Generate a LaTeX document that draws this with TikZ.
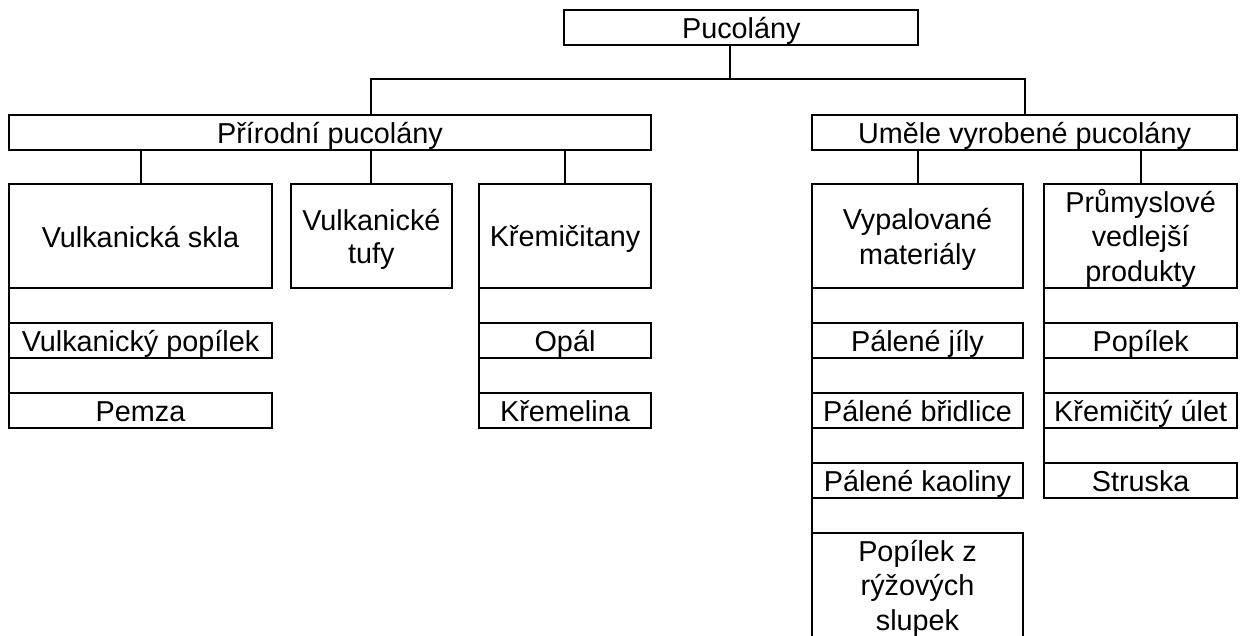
\documentclass[tikz,border=0pt]{standalone}
\usepackage{fontspec}
\setmainfont{Liberation Sans}
\newcommand\strt{\rule[-5.3pt]{0pt}{33pt}}
\begin{document}
\begin{tikzpicture}[x=1pt,y=-1pt,
  bx/.style={draw=black, line width=2pt, inner sep=0pt, outer sep=0pt,
    align=center, anchor=north west, font=\fontsize{28.8}{33}\selectfont},
  ln/.style={draw=black, line width=2pt}]
\fill[white] (0,0) rectangle (1240,635);
\useasboundingbox (0,0) rectangle (1240,635);
% level 1
\node[bx, minimum width=354pt, minimum height=34.5pt] (top) at (564.3,10) {\strt Pucolány};
% level 2
\node[bx, minimum width=641.4pt, minimum height=35.3pt] (pri) at (9.3,114.7) {\strt Přírodní pucolány};
\node[bx, minimum width=425.6pt, minimum height=35.3pt] (ume) at (811.7,114.7) {\strt Uměle vyrobené pucolány};
% level 3
\node[bx, minimum width=262.4pt, minimum height=103.4pt] (skla) at (9.3,184.3) {\strt Vulkanická skla};
\node[bx, minimum width=160.7pt, minimum height=103.4pt] (tufy) at (291,184.3) {\strt Vulkanické\\\strt tufy};
\node[bx, minimum width=171.4pt, minimum height=103.4pt] (krem) at (479.3,184.3) {\strt Křemičitany};
\node[bx, minimum width=211.6pt, minimum height=103.4pt] (vyp) at (811.7,184.3) {\strt Vypalované\\\strt materiály};
\node[bx, minimum width=193.3pt, minimum height=103.4pt] (prum) at (1044,184.3) {\strt Průmyslové\\\strt vedlejší\\\strt produkty};
% level 4
\node[bx, minimum width=262.4pt, minimum height=35pt] (vpop) at (9.3,322.8) {\strt Vulkanický popílek};
\node[bx, minimum width=262.4pt, minimum height=35pt] (pemza) at (9.3,393) {\strt Pemza};
\node[bx, minimum width=171.4pt, minimum height=35pt] (opal) at (479.3,322.8) {\strt Opál};
\node[bx, minimum width=171.4pt, minimum height=35pt] (kremel) at (479.3,393) {\strt Křemelina};
\node[bx, minimum width=211.6pt, minimum height=35pt] (pj) at (811.7,322.8) {\strt Pálené jíly};
\node[bx, minimum width=211.6pt, minimum height=35pt] (pb) at (811.7,393) {\strt Pálené břidlice};
\node[bx, minimum width=211.6pt, minimum height=35pt] (pk) at (811.7,463.2) {\strt Pálené kaoliny};
\node[bx, minimum width=211.6pt, minimum height=103.4pt] (pr) at (811.7,533.3) {\strt Popílek z\\\strt rýžových\\\strt slupek};
\node[bx, minimum width=193.3pt, minimum height=35pt] (pop) at (1044,322.8) {\strt Popílek};
\node[bx, minimum width=193.3pt, minimum height=35pt] (ku) at (1044,393) {\strt Křemičitý úlet};
\node[bx, minimum width=193.3pt, minimum height=35pt] (st) at (1044,463.2) {\strt Struska};
% connectors
\coordinate (j0) at (730,79.3);
\draw[ln] (top.south -| j0) -- (j0);
\draw[ln] (pri.north -| tufy.north) |- (ume.north |- j0) -- (ume.north);
\draw[ln] (skla.north) -- (skla.north |- pri.south);
\draw[ln] (tufy.north) -- (tufy.north |- pri.south);
\draw[ln] (krem.north) -- (krem.north |- pri.south);
\draw[ln] (vyp.north) -- (vyp.north |- ume.south);
\draw[ln] (prum.north) -- (prum.north |- ume.south);
\draw[ln] (skla.south west) -- (pemza.north west);
\draw[ln] (krem.south west) -- (kremel.north west);
\draw[ln] (vyp.south west) -- (pr.north west);
\draw[ln] (prum.south west) -- (st.north west);
\end{tikzpicture}
\end{document}
